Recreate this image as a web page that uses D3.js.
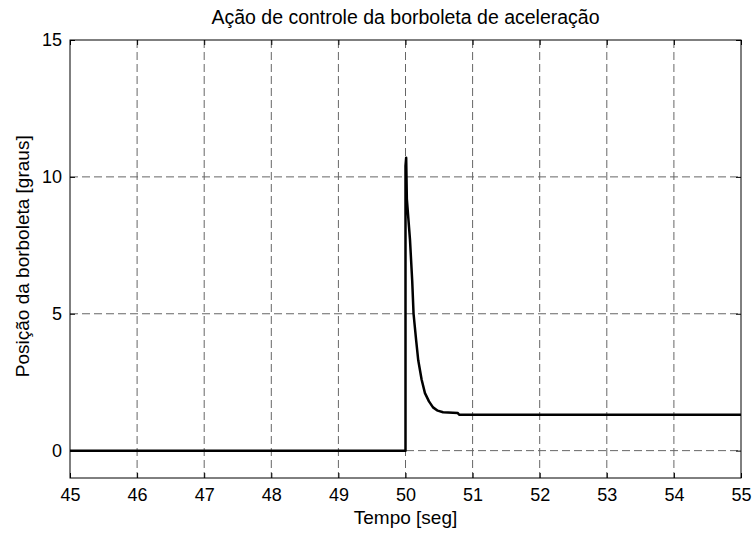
<!DOCTYPE html>
<html>
<head>
<meta charset="utf-8">
<script src="https://cdn.jsdelivr.net/npm/d3@7"></script>
<style>
  body { margin: 0; background: #fff; }
  svg text { font-family: "Liberation Sans", Arial, sans-serif; fill: #000; }
</style>
</head>
<body>
<div id="chart"></div>
<script>
// valores
const tempo = [45, 50, 50, 50.01, 50.02, 50.067, 50.10, 50.12, 50.16, 50.19, 50.24, 50.29, 50.35, 50.41, 50.48, 50.56, 50.78, 50.80, 55];
const posicao = [0, 0, 10.4, 10.7, 9.2, 7.7, 6.2, 5.0, 4.0, 3.3, 2.6, 2.1, 1.8, 1.58, 1.46, 1.40, 1.37, 1.31, 1.31];
const xTicks = [45, 46, 47, 48, 49, 50, 51, 52, 53, 54, 55];
const yTicks = [0, 5, 10, 15];

const width = 752, height = 535;
const margin = { top: 40, right: 11, bottom: 57, left: 70 };
const w = width - margin.left - margin.right;
const h = height - margin.top - margin.bottom;

const svg = d3.select("#chart").append("svg")
    .attr("width", width)
    .attr("height", height);

const g = svg.append("g")
    .attr("transform", "translate(" + margin.left + "," + margin.top + ")");

const x = d3.scaleLinear().domain([45, 55]).range([0, w]);
const y = d3.scaleLinear().domain([-1, 15]).range([h, 0]);

// grade
g.selectAll(".gx").data(xTicks.slice(1, -1)).enter().append("line")
    .attr("x1", d => x(d)).attr("x2", d => x(d))
    .attr("y1", 0).attr("y2", h)
    .attr("stroke", "#666").attr("stroke-dasharray", "8,4");
g.selectAll(".gy").data(yTicks.filter(d => d < 15)).enter().append("line")
    .attr("y1", d => y(d)).attr("y2", d => y(d))
    .attr("x1", 0).attr("x2", w)
    .attr("stroke", "#666").attr("stroke-dasharray", "8,4");

// eixos (ticks para dentro, como no matlab)
const axB = g.append("g").attr("transform", "translate(0," + h + ")")
    .call(d3.axisBottom(x).tickValues(xTicks).tickSize(-5).tickPadding(10));
const axT = g.append("g")
    .call(d3.axisTop(x).tickValues(xTicks).tickSize(-5).tickFormat(""));
const axL = g.append("g")
    .call(d3.axisLeft(y).tickValues(yTicks).tickSize(-5).tickPadding(8));
const axR = g.append("g").attr("transform", "translate(" + w + ",0)")
    .call(d3.axisRight(y).tickValues(yTicks).tickSize(-5).tickFormat(""));

[axB, axT, axL, axR].forEach(a => {
    a.select(".domain").remove();
    a.selectAll("line").attr("stroke", "#000");
    a.selectAll("text").style("font-size", "18px").attr("fill", "#000");
});

g.append("rect")
    .attr("width", w).attr("height", h)
    .attr("fill", "none").attr("stroke", "#000").attr("stroke-width", 1);

// curva
const line = d3.line()
    .x((d, i) => x(tempo[i]))
    .y(d => y(d));

g.append("path")
    .attr("d", line(posicao))
    .attr("fill", "none")
    .attr("stroke", "#000")
    .attr("stroke-width", 2.5)
    .attr("stroke-linejoin", "round");

// textos
svg.append("text")
    .attr("x", margin.left + w / 2).attr("y", 24)
    .style("text-anchor", "middle").style("font-size", "19.5px")
    .text("Ação de controle da borboleta de aceleração");

svg.append("text")
    .attr("x", margin.left + w / 2).attr("y", 524)
    .style("text-anchor", "middle").style("font-size", "19px")
    .text("Tempo [seg]");

svg.append("text")
    .attr("transform", "translate(29," + (margin.top + y(7.1)) + ")rotate(-90)")
    .style("text-anchor", "middle").style("font-size", "19px")
    .text("Posição da borboleta [graus]");
</script>
</body>
</html>
